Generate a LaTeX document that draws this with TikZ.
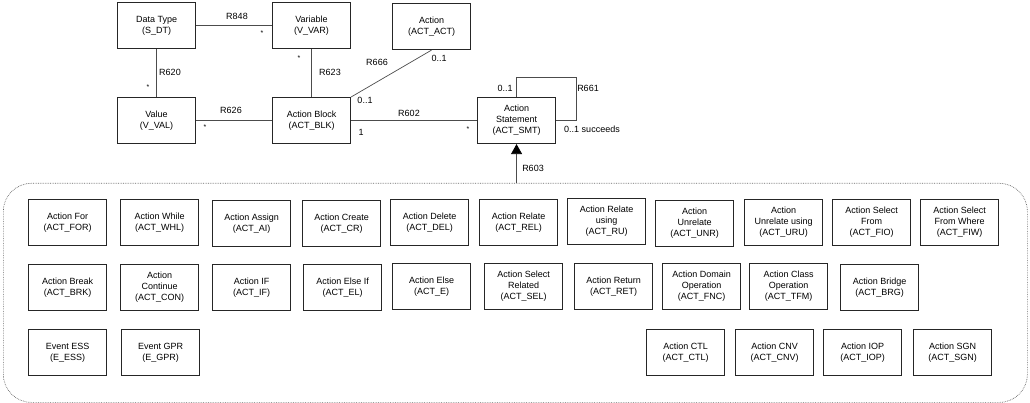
\documentclass[tikz,border=0pt]{standalone}
\usepackage{fontspec}
\setmainfont{Liberation Sans}
\usetikzlibrary{arrows.meta}
\begin{document}
\begin{tikzpicture}[x=1pt,y=-1pt,
  cls/.style={draw=black!85, line width=1.1pt, minimum width=78pt, minimum height=46pt,
    inner sep=1pt, align=center, font=\fontsize{9}{11}\selectfont, anchor=north west},
  lbl/.style={font=\fontsize{9}{11}\selectfont, inner sep=0pt},
  mult/.style={font=\fontsize{7}{8}\selectfont, inner sep=0pt},
  conn/.style={draw=black!70, line width=0.7pt},
  grpbox/.style={draw=black!60, line width=0.7pt, densely dotted, rounded corners=28pt,
    anchor=north west, minimum width=1024pt, minimum height=219pt, inner sep=0pt}]
\useasboundingbox (0,0) rectangle (1030,403);

% container
\node[grpbox] (grp) at (3,183) {};

% top classes
\node[cls] (dt)  at (117,2)  {Data Type\\(S\_DT)};
\node[cls] (var) at (272,2)  {Variable\\(V\_VAR)};
\node[cls] (act) at (392,3)  {Action\\(ACT\_ACT)};
\node[cls] (val) at (117,97) {Value\\(V\_VAL)};
\node[cls] (blk) at (272,97) {Action Block\\(ACT\_BLK)};
\node[cls] (smt) at (477,97) {Action\\Statement\\(ACT\_SMT)};

% row 1
\node[cls] (for) at (28,199)  {Action For\\(ACT\_FOR)};
\node[cls] (whl) at (120,199) {Action While\\(ACT\_WHL)};
\node[cls] (ai)  at (212,200) {Action Assign\\(ACT\_AI)};
\node[cls] (cr)  at (302,200) {Action Create\\(ACT\_CR)};
\node[cls] (del) at (390,199) {Action Delete\\(ACT\_DEL)};
\node[cls] (rel) at (479,199) {Action Relate\\(ACT\_REL)};
\node[cls] (ru)  at (567,198) {Action Relate\\using\\(ACT\_RU)};
\node[cls] (unr) at (655,200) {Action\\Unrelate\\(ACT\_UNR)};
\node[cls] (uru) at (744,199) {Action\\Unrelate using\\(ACT\_URU)};
\node[cls] (fio) at (832,199) {Action Select\\From\\(ACT\_FIO)};
\node[cls] (fiw) at (920,199) {Action Select\\From Where\\(ACT\_FIW)};

% row 2
\node[cls] (brk) at (28,264)  {Action Break\\(ACT\_BRK)};
\node[cls] (con) at (120,264) {Action\\Continue\\(ACT\_CON)};
\node[cls] (aif) at (212,264) {Action IF\\(ACT\_IF)};
\node[cls] (el)  at (303,264) {Action Else If\\(ACT\_EL)};
\node[cls] (ae)  at (392,263) {Action Else\\(ACT\_E)};
\node[cls] (sel) at (484,263) {Action Select\\Related\\(ACT\_SEL)};
\node[cls] (ret) at (574,263) {Action Return\\(ACT\_RET)};
\node[cls] (fnc) at (662,263) {Action Domain\\Operation\\(ACT\_FNC)};
\node[cls] (tfm) at (749,263) {Action Class\\Operation\\(ACT\_TFM)};
\node[cls] (brg) at (840,264) {Action Bridge\\(ACT\_BRG)};

% row 3
\node[cls] (ess) at (28,329)  {Event ESS\\(E\_ESS)};
\node[cls] (gpr) at (121,329) {Event GPR\\(E\_GPR)};
\node[cls] (ctl) at (646,329) {Action CTL\\(ACT\_CTL)};
\node[cls] (cnv) at (735,329) {Action CNV\\(ACT\_CNV)};
\node[cls] (iop) at (823,329) {Action IOP\\(ACT\_IOP)};
\node[cls] (sgn) at (913,329) {Action SGN\\(ACT\_SGN)};

% connectors
\draw[conn] (dt.east) -- (var.west);
\draw[conn] (dt.south) -- (val.north);
\draw[conn] (var.south) -- (blk.north);
\draw[conn] (blk.west) -- (val.east);
\draw[conn] (act.south) -- (blk.north east);
\draw[conn] (blk.east) -- (smt.west);
\coordinate (loop) at (576,77);
\draw[conn] (smt.north) |- (loop) |- (smt.east);
\draw[conn, -{Triangle[width=11pt,length=10pt,color=black,fill=black]}] (smt.south |- grp.north) -- (smt.south);

% labels
\node[lbl] (l848) at (237,16) {R848};
\node[mult] (m848) at (262,33) {*};
\node[lbl] (l620) at (170,72) {R620};
\node[mult] (m620) at (148,87) {*};
\node[lbl] (l623) at (330,72) {R623};
\node[mult] (m623) at (299,58) {*};
\node[lbl] (l666) at (377,62) {R666};
\node[lbl] (m666a) at (439,58) {0..1};
\node[lbl] (m666b) at (365,100) {0..1};
\node[lbl] (l626) at (231,110) {R626};
\node[mult] (m626) at (205,127) {*};
\node[lbl] (l602) at (409,113) {R602};
\node[lbl] (m602a) at (361,132) {1};
\node[mult] (m602b) at (468,129) {*};
\node[lbl] (l661) at (588,88) {R661};
\node[lbl] (m661a) at (505,88) {0..1};
\node[lbl] (m661b) at (592,129) {0..1 succeeds};
\node[lbl] (l603) at (533,168) {R603};
\end{tikzpicture}
\end{document}
